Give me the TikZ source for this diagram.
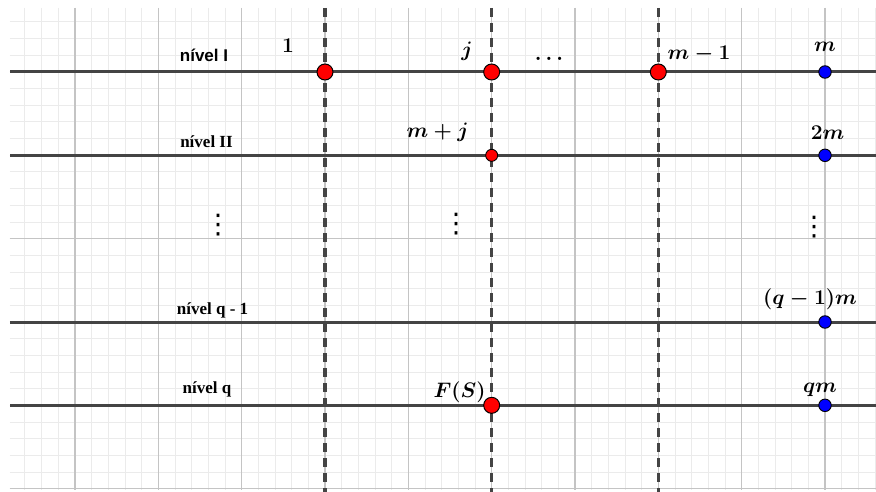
\RequirePackage{fix-cm}
\documentclass[tikz,border=0pt]{standalone}
\usepackage{fontspec}
\newfontfamily\arialb{Liberation Sans}[BoldFont=* Bold]
\newfontfamily\timesb{Liberation Serif}[BoldFont=* Bold]
\newfontfamily\dejavu{DejaVu Sans}
\definecolor{minorgrid}{HTML}{EBEBEB}
\definecolor{majorgrid}{HTML}{C4C4C4}
\definecolor{levelline}{HTML}{444444}
\tikzset{
  levelstyle/.style={draw=levelline, line width=3pt},
  dashvert/.style={draw=levelline, line width=3.2pt, dash pattern=on 9pt off 6pt},
  bigred/.style={circle, draw=black, line width=1pt, fill=red, minimum size=16pt, inner sep=0pt},
  smallred/.style={circle, draw=black, line width=0.9pt, fill=red, minimum size=12pt, inner sep=0pt},
  bluept/.style={circle, draw=black, line width=0.9pt, fill=blue, minimum size=12.5pt, inner sep=0pt},
  mlabel/.style={anchor=base, inner sep=0pt, font=\fontsize{21}{25}\selectfont\boldmath},
  lvlsans/.style={anchor=base, inner sep=0pt, font=\fontsize{17}{20}\selectfont\arialb\bfseries},
  lvlserif/.style={anchor=base, inner sep=0pt, font=\fontsize{17}{20}\selectfont\timesb\bfseries},
  vdotsstyle/.style={inner sep=0pt, font=\fontsize{27}{30}\selectfont\dejavu}
}
\begin{document}
\begin{tikzpicture}[x=1pt, y=-1pt]
\fill[white] (0,0) rectangle (876,492);
\useasboundingbox (0,0) rectangle (876,492);
% minor grid
\begin{scope}
\clip (9.5,8) rectangle (876,490);
\foreach \i in {0,...,52} {
  \draw[minorgrid, line width=1pt] ({8.333+16.6667*\i},8) -- ({8.333+16.6667*\i},490);
}
\foreach \j in {0,...,29} {
  \draw[minorgrid, line width=1pt] (9.5,{5.333+16.6667*\j}) -- (876,{5.333+16.6667*\j});
}
% major grid
\foreach \i in {0,...,9} {
  \draw[majorgrid, line width=1.4pt] ({75+83.3333*\i},8) -- ({75+83.3333*\i},490);
}
\foreach \j in {0,...,5} {
  \draw[majorgrid, line width=1.4pt] (9.5,{72+83.3333*\j}) -- (876,{72+83.3333*\j});
}
\end{scope}
% level lines
\coordinate (L1a) at (10,72);  \coordinate (L1b) at (876,72);
\coordinate (L2a) at (10,155.33); \coordinate (L2b) at (876,155.33);
\coordinate (L3a) at (10,322); \coordinate (L3b) at (876,322);
\coordinate (L4a) at (10,405.33); \coordinate (L4b) at (876,405.33);
\draw[levelstyle] (L1a) -- (L1b);
\draw[levelstyle] (L2a) -- (L2b);
\draw[levelstyle] (L3a) -- (L3b);
\draw[levelstyle] (L4a) -- (L4b);
% dashed verticals
\coordinate (V1a) at (325,8); \coordinate (V1b) at (325,492);
\coordinate (V2a) at (491.67,8); \coordinate (V2b) at (491.67,492);
\coordinate (V3a) at (658.33,8); \coordinate (V3b) at (658.33,492);
\draw[dashvert] (V1a) -- (V1b);
\draw[dashvert] (V2a) -- (V2b);
\draw[dashvert] (V3a) -- (V3b);
% points
\node[bigred] (p1) at (325,72) {};
\node[bigred] (pj) at (491.67,72) {};
\node[bigred] (pm1) at (658.33,72) {};
\node[bluept] (pm) at (825,72) {};
\node[smallred] (pmj) at (491.67,155.33) {};
\node[bluept] (p2m) at (825,155.33) {};
\node[bluept] (pq1m) at (825,322) {};
\node[bigred] (pFS) at (491.67,405.33) {};
\node[bluept] (pqm) at (825,405.33) {};
% level labels
\node[lvlsans] (n1) at (204,62) {nível I};
\node[lvlserif] (n2) at (206.5,148) {nível II};
\node[lvlserif] (n3) at (212.5,314) {nível q - 1};
\node[lvlserif] (n4) at (207,393) {nível q};
% math labels
\node[mlabel] (t1) at (288,53) {$1$};
\node[mlabel] (tj) at (467,57) {$j$};
\node[mlabel] (tdots) at (549,61) {$\dots$};
\node[mlabel] (tm1) at (699,60) {$m-1$};
\node[mlabel] (tm) at (825,52) {$m$};
\node[mlabel] (tmj) at (437.5,138) {$m+j$};
\node[mlabel] (t2m) at (827.5,140) {$2m$};
\node[mlabel] (tq1m) at (810,304) {$(q-1)m$};
\node[mlabel] (tqm) at (820,392) {$qm$};
\node[mlabel] (tFS) at (459.5,397) {$F(S)$};
% vertical dots
\node[vdotsstyle, anchor=base] (vd1) at (218,233.5) {⋮};
\node[vdotsstyle, anchor=base] (vd2) at (456,232.5) {⋮};
\node[vdotsstyle, anchor=base] (vd3) at (814,235.5) {⋮};
\end{tikzpicture}
\end{document}
